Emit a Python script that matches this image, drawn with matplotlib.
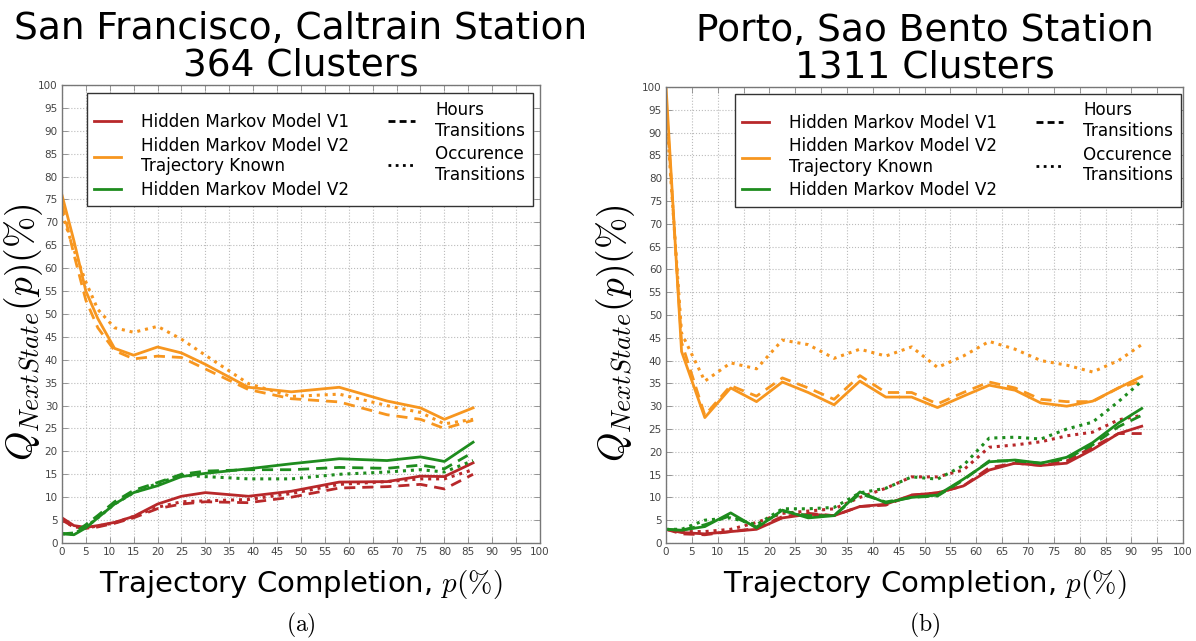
import matplotlib
matplotlib.use('Agg')
import matplotlib.pyplot as plt
from matplotlib.lines import Line2D

plt.rcParams['mathtext.fontset'] = 'cm'
plt.rcParams['font.family'] = 'DejaVu Sans'

RED = '#b8282a'
ORANGE = '#f7961f'
GREEN = '#1e8c1e'

# San Francisco, Caltrain Station (364 clusters)
sf_x = [0, 2.5, 5, 7.5, 11, 15, 20, 25, 30, 39, 48, 58, 68, 75, 80, 86]
sf_hmm1 = [5.5, 3.8, 3.4, 3.8, 4.5, 5.8, 8.5, 10.2, 11, 10.2, 11.3, 13.3, 13.4, 14.6, 14.5, 17.5]
sf_hmm1_hours = [5, 3.5, 3.2, 3.5, 4.3, 5.5, 7.5, 8.5, 9, 8.8, 10, 12, 12.3, 12.8, 11.8, 15]
sf_hmm1_occ = [5, 3.5, 3.3, 3.7, 4.4, 5.8, 7.8, 9, 9.2, 9.5, 10.8, 12.8, 13.4, 14, 14, 16]
sf_known = [76, 66, 55, 49, 42.5, 41, 42.8, 41.5, 39, 34, 33, 34, 31, 29.5, 27, 29.5]
sf_known_hours = [74, 63, 53, 47, 42, 40.2, 40.8, 40.5, 38, 33.5, 31.5, 30.8, 28, 27, 25, 26.8]
sf_known_occ = [72, 64, 57, 51, 47, 46, 47.3, 44.5, 41, 34.8, 32, 32.5, 30, 28.5, 26, 27]
sf_hmm2 = [2, 1.8, 3.3, 5.5, 8.5, 11, 12.5, 14.5, 15.2, 16.2, 17.3, 18.4, 18, 18.8, 17.8, 22]
sf_hmm2_hours = [2, 2.2, 4, 6, 9, 11.5, 13.2, 15, 15.7, 16, 16, 16.5, 16.3, 17, 16.2, 19.8]
sf_hmm2_occ = [2, 2, 3.5, 5.5, 8.5, 11, 13, 14.8, 14.5, 14, 14, 15, 15.5, 16, 15.5, 18]

# Porto, Sao Bento Station (1311 clusters)
po_x = [0, 3, 7.5, 12.5, 17.5, 22.5, 27.5, 32.5, 37.5, 42.5, 47.5, 52.5,
        57.5, 62.5, 67.5, 72.5, 77.5, 82.5, 87.5, 92]
po_hmm1 = [3, 2.3, 2, 2.5, 3, 5.5, 6.3, 6, 8, 8.5, 10.5, 11, 12.5, 16, 17.5, 17, 17.5, 20.5, 24, 25.6]
po_hmm1_hours = [3, 2, 1.8, 2.5, 3.2, 5.8, 6.5, 6, 8, 8.3, 10.5, 11, 12.5, 16.5, 17.5, 17, 18, 21, 24, 24]
po_hmm1_occ = [3, 2.5, 2.5, 3, 4.5, 6.5, 7, 7.5, 10, 12, 14.5, 14.5, 16, 21, 21.5, 22.2, 23.5, 24.3, 27, 28]
po_known = [100, 42, 27.5, 34, 31, 35.3, 33, 30.3, 35.5, 32, 32, 29.7, 32.2, 34.6, 33.5, 30.7, 30, 31.1, 34, 36.5]
po_known_hours = [97, 44, 28, 34.5, 32.2, 36.2, 34, 31.5, 36.7, 33, 33, 30.5, 33, 35.3, 34, 31.5, 31, 31, 34, 35.5]
po_known_occ = [95, 46, 35.5, 39.5, 38.2, 44.5, 43.5, 40.5, 42.5, 41, 43, 38.5, 41, 44.2, 42.5, 40, 39, 37.5, 40, 43.5]
po_hmm2 = [3, 2.8, 3.6, 6.6, 3.3, 7.2, 5.5, 6, 11.2, 8.8, 10, 10.5, 14, 17.8, 18.2, 17.5, 18.8, 22, 26.3, 29.5]
po_hmm2_hours = [3, 2.8, 4, 6, 3.5, 7, 6, 6, 10.8, 9, 10, 10.3, 13.8, 18, 18, 17.5, 18.5, 21.5, 25.5, 28]
po_hmm2_occ = [3, 3, 5, 5.5, 4, 7.5, 7.5, 7.8, 11, 12, 14.5, 14, 17, 23, 23.2, 22.8, 25, 26.5, 31, 35.5]

model_labels = ['Hidden Markov Model V1',
                'Hidden Markov Model V2\nTrajectory Known',
                'Hidden Markov Model V2']
style_labels = ['Hours\nTransitions', 'Occurence\nTransitions']
ticks = list(range(0, 101, 5))

DOT = (0, (1, 1.6))


def drawPanel(ax, x, series, title, caption, legend_anchor, ylabel_x):
  for color, (solid, hours, occ) in series:
    ax.plot(x, solid, color=color, lw=2, ls='-')
    ax.plot(x, hours, color=color, lw=2, ls='--', dashes=(4, 2.5))
    ax.plot(x, occ, color=color, lw=2.2, ls=DOT)

  ax.set_xlim(0, 100)
  ax.set_ylim(0, 100)
  ax.set_xticks(ticks)
  ax.set_yticks(ticks)
  ax.tick_params(direction='in', top=True, right=True, length=4, width=0.6,
                 labelsize=7.5, labelcolor='#444444', color='#888888', pad=3)
  for s in ax.spines.values():
    s.set_color('#777777')
    s.set_linewidth(1.0)
  ax.grid(True, ls=':', color='#bbbbbb', lw=0.8)
  ax.set_axisbelow(True)

  ax.set_title(title, fontsize=27, pad=7, linespacing=1.0)
  ax.set_xlabel(r'Trajectory Completion, $p(\%)$', fontsize=21, labelpad=8)
  ax.set_ylabel(r'$Q_{NextState}(p)(\%)$', fontsize=27)
  ax.yaxis.set_label_coords(ylabel_x, 0.46)
  ax.text(0.5, -0.18, caption, transform=ax.transAxes, ha='center',
          va='center', fontsize=17)

  handles = [Line2D([], [], color=c, lw=2) for c, _ in series]
  handles += [Line2D([], [], color='k', lw=2, ls='--', dashes=(2.5, 1.5)),
              Line2D([], [], color='k', lw=2, ls=DOT)]
  leg = ax.legend(handles, model_labels + style_labels, ncol=2,
                  loc='upper left', bbox_to_anchor=legend_anchor,
                  borderaxespad=0, fontsize=12.1, handlelength=1.6,
                  handletextpad=1.2, columnspacing=2.3, labelspacing=0.32,
                  borderpad=0.45, fancybox=False, framealpha=1)
  leg.get_frame().set_edgecolor('#333333')
  leg.get_frame().set_linewidth(1.0)


fig = plt.figure(figsize=(11.96, 6.41), dpi=100)
ax1 = fig.add_axes([0.0518, 0.1529, 0.3997, 0.7145])
ax2 = fig.add_axes([0.5569, 0.1529, 0.4323, 0.7114])

drawPanel(ax1, sf_x,
          [(RED, (sf_hmm1, sf_hmm1_hours, sf_hmm1_occ)),
           (ORANGE, (sf_known, sf_known_hours, sf_known_occ)),
           (GREEN, (sf_hmm2, sf_hmm2_hours, sf_hmm2_occ))],
          'San Francisco, Caltrain Station\n364 Clusters', r'$\mathrm{(a)}$',
          (0.052, 0.982), -0.036)
drawPanel(ax2, po_x,
          [(RED, (po_hmm1, po_hmm1_hours, po_hmm1_occ)),
           (ORANGE, (po_known, po_known_hours, po_known_occ)),
           (GREEN, (po_hmm2, po_hmm2_hours, po_hmm2_occ))],
          'Porto, Sao Bento Station\n1311 Clusters', r'$\mathrm{(b)}$',
          (0.133, 0.985), -0.056)

fig.savefig('out.png', dpi=100)
